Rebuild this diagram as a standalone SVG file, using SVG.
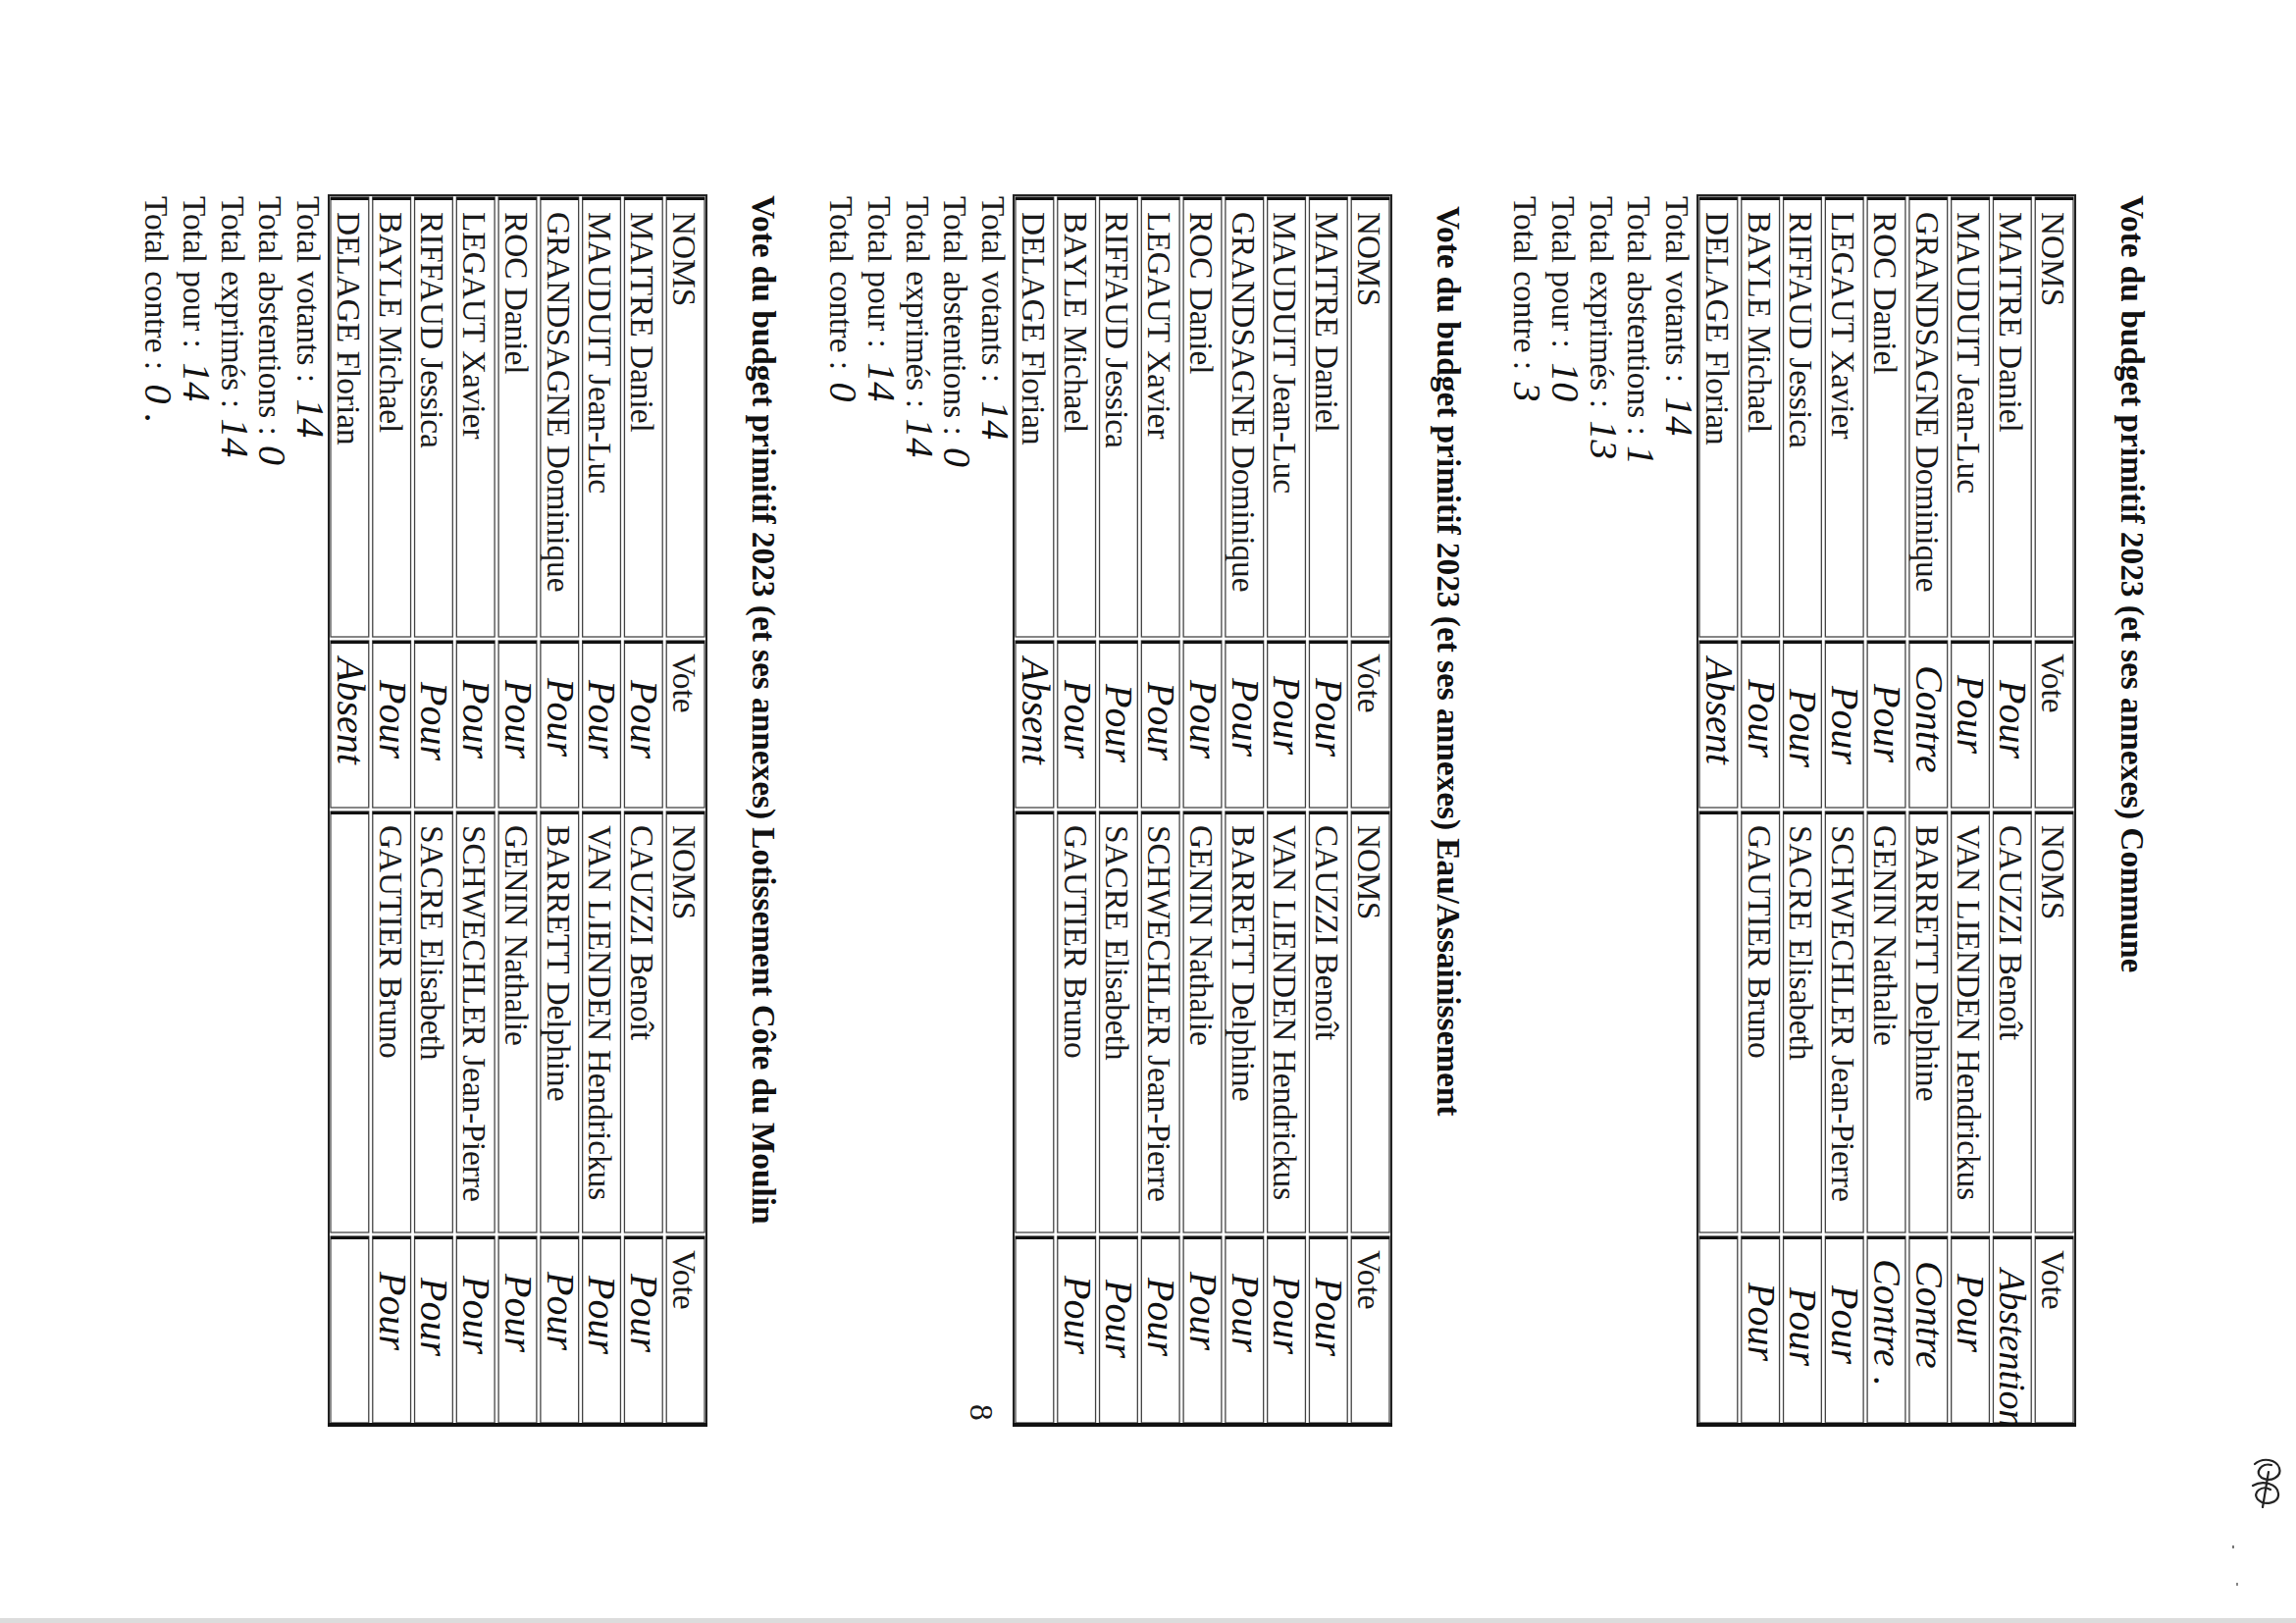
<svg xmlns="http://www.w3.org/2000/svg" width="2340" height="1654" viewBox="0 0 2340 1654">
<style>
.t{font-family:"Liberation Serif","Times New Roman",serif;font-size:33.3px;fill:#1a1a1a}
.ti{font-family:"Liberation Serif","Times New Roman",serif;font-size:33.3px;font-weight:bold;fill:#111}
.hw{font-family:"Liberation Serif","DejaVu Serif",serif;font-style:italic;font-size:40px;fill:#111}
.cell{fill:none;stroke:#454545;stroke-width:1.3}
.lk{fill:none;stroke:#111;stroke-width:3}
.out{fill:none;stroke:#222;stroke-width:2}
.edge{stroke:#111;stroke-width:4}
</style>
<defs>
<g id="row">
<rect class="cell" x="2" y="2" width="448" height="38.78"/>
<rect class="cell" x="454" y="2" width="170" height="38.78"/>
<rect class="cell" x="628" y="2" width="429" height="38.78"/>
<rect class="cell" x="1061" y="2" width="190" height="38.78"/>
<path class="lk" d="M3.5 2V40.78M455.5 2V40.78M629.5 2V40.78M1062.5 2V40.78"/>
</g>
<g id="grid">
<rect class="out" x="0" y="0" width="1253" height="385"/>
<use href="#row" y="0"/>
<use href="#row" y="42.78"/>
<use href="#row" y="85.56"/>
<use href="#row" y="128.33"/>
<use href="#row" y="171.11"/>
<use href="#row" y="213.89"/>
<use href="#row" y="256.67"/>
<use href="#row" y="299.44"/>
<use href="#row" y="342.22"/>
<line class="edge" x1="1253" y1="-1" x2="1253" y2="386"/>
</g>
</defs>
<rect width="2340" height="1654" fill="#fff"/>
<g transform="translate(2340,0) rotate(90)">

<g id="vote-commune" transform="translate(199,225)">
<text class="ti" x="0" y="-47">Vote du budget primitif 2023 (et ses annexes) Commune</text>
<use href="#grid"/>
<g class="t">
<text x="17" y="34">NOMS</text>
<text x="17" y="76.78">MAITRE Daniel</text>
<text x="17" y="119.56">MAUDUIT Jean-Luc</text>
<text x="17" y="162.33">GRANDSAGNE Dominique</text>
<text x="17" y="205.11">ROC Daniel</text>
<text x="17" y="247.89">LEGAUT Xavier</text>
<text x="17" y="290.67">RIFFAUD Jessica</text>
<text x="17" y="333.44">BAYLE Michael</text>
<text x="17" y="376.22">DELAGE Florian</text>
<text x="467" y="34">Vote</text>
<text x="642" y="34">NOMS</text>
<text x="642" y="76.78">CAUZZI Benoît</text>
<text x="642" y="119.56">VAN LIENDEN Hendrickus</text>
<text x="642" y="162.33">BARRETT Delphine</text>
<text x="642" y="205.11">GENIN Nathalie</text>
<text x="642" y="247.89">SCHWECHLER Jean-Pierre</text>
<text x="642" y="290.67">SACRE Elisabeth</text>
<text x="642" y="333.44">GAUTIER Bruno</text>
<text x="1075" y="34">Vote</text>
</g>
<g class="hw">
<text x="494" y="76.78">Pour</text>
<text x="489" y="119.56">Pour</text>
<text x="479" y="162.33">Contre</text>
<text x="498" y="205.11">Pour</text>
<text x="500" y="247.89">Pour</text>
<text x="503" y="290.67">Pour</text>
<text x="493" y="333.44">Pour</text>
<text x="471" y="376.22">Absent</text>
<text x="1094" y="76.78" style="font-size:38px">Abstention</text>
<text x="1099" y="119.56">Pour</text>
<text x="1086" y="162.33">Contre</text>
<text x="1084" y="205.11">Contre .</text>
<text x="1111" y="247.89">Pour</text>
<text x="1113" y="290.67">Pour</text>
<text x="1108" y="333.44">Pour</text>
</g>
<g class="t">
<text x="1" y="417">Total votants : <tspan class="hw" dx="6">14</tspan></text>
<text x="1" y="455.75">Total abstentions : <tspan class="hw" dx="2">1</tspan></text>
<text x="1" y="494.5">Total exprimés : <tspan class="hw" dx="4">13</tspan></text>
<text x="1" y="533.25">Total pour : <tspan class="hw" dx="6">10</tspan></text>
<text x="1" y="572">Total contre : <tspan class="hw" dx="4">3</tspan></text>
</g>
</g>

<g id="vote-eau" transform="translate(199,922)">
<text class="ti" x="11" y="-47">Vote du budget primitif 2023 (et ses annexes) Eau/Assainissement</text>
<use href="#grid"/>
<g class="t">
<text x="17" y="34">NOMS</text>
<text x="17" y="76.78">MAITRE Daniel</text>
<text x="17" y="119.56">MAUDUIT Jean-Luc</text>
<text x="17" y="162.33">GRANDSAGNE Dominique</text>
<text x="17" y="205.11">ROC Daniel</text>
<text x="17" y="247.89">LEGAUT Xavier</text>
<text x="17" y="290.67">RIFFAUD Jessica</text>
<text x="17" y="333.44">BAYLE Michael</text>
<text x="17" y="376.22">DELAGE Florian</text>
<text x="467" y="34">Vote</text>
<text x="642" y="34">NOMS</text>
<text x="642" y="76.78">CAUZZI Benoît</text>
<text x="642" y="119.56">VAN LIENDEN Hendrickus</text>
<text x="642" y="162.33">BARRETT Delphine</text>
<text x="642" y="205.11">GENIN Nathalie</text>
<text x="642" y="247.89">SCHWECHLER Jean-Pierre</text>
<text x="642" y="290.67">SACRE Elisabeth</text>
<text x="642" y="333.44">GAUTIER Bruno</text>
<text x="1075" y="34">Vote</text>
</g>
<g class="hw">
<text x="492" y="76.78">Pour</text>
<text x="490" y="119.56">Pour</text>
<text x="492" y="162.33">Pour</text>
<text x="494" y="205.11">Pour</text>
<text x="496" y="247.89">Pour</text>
<text x="498" y="290.67">Pour</text>
<text x="494" y="333.44">Pour</text>
<text x="471" y="376.22">Absent</text>
<text x="1103" y="76.78">Pour</text>
<text x="1101" y="119.56">Pour</text>
<text x="1099" y="162.33">Pour</text>
<text x="1097" y="205.11">Pour</text>
<text x="1103" y="247.89">Pour</text>
<text x="1105" y="290.67">Pour</text>
<text x="1101" y="333.44">Pour</text>
</g>
<g class="t">
<text x="1" y="417">Total votants : <tspan class="hw" dx="10">14</tspan></text>
<text x="1" y="455.75">Total abstentions : <tspan class="hw" dx="4">0</tspan></text>
<text x="1" y="494.5">Total exprimés : <tspan class="hw" dx="2">14</tspan></text>
<text x="1" y="533.25">Total pour : <tspan class="hw" dx="6">14</tspan></text>
<text x="1" y="572">Total contre : <tspan class="hw" dx="4">0</tspan></text>
</g>
</g>

<g id="vote-lotissement" transform="translate(199,1620)">
<text class="ti" x="0" y="-47">Vote du budget primitif 2023 (et ses annexes) Lotissement Côte du Moulin</text>
<use href="#grid"/>
<g class="t">
<text x="17" y="34">NOMS</text>
<text x="17" y="76.78">MAITRE Daniel</text>
<text x="17" y="119.56">MAUDUIT Jean-Luc</text>
<text x="17" y="162.33">GRANDSAGNE Dominique</text>
<text x="17" y="205.11">ROC Daniel</text>
<text x="17" y="247.89">LEGAUT Xavier</text>
<text x="17" y="290.67">RIFFAUD Jessica</text>
<text x="17" y="333.44">BAYLE Michael</text>
<text x="17" y="376.22">DELAGE Florian</text>
<text x="467" y="34">Vote</text>
<text x="642" y="34">NOMS</text>
<text x="642" y="76.78">CAUZZI Benoît</text>
<text x="642" y="119.56">VAN LIENDEN Hendrickus</text>
<text x="642" y="162.33">BARRETT Delphine</text>
<text x="642" y="205.11">GENIN Nathalie</text>
<text x="642" y="247.89">SCHWECHLER Jean-Pierre</text>
<text x="642" y="290.67">SACRE Elisabeth</text>
<text x="642" y="333.44">GAUTIER Bruno</text>
<text x="1075" y="34">Vote</text>
</g>
<g class="hw">
<text x="494" y="76.78">Pour</text>
<text x="494" y="119.56">Pour</text>
<text x="492" y="162.33">Pour</text>
<text x="494" y="205.11">Pour</text>
<text x="494" y="247.89">Pour</text>
<text x="496" y="290.67">Pour</text>
<text x="494" y="333.44">Pour</text>
<text x="471" y="376.22">Absent</text>
<text x="1099" y="76.78">Pour</text>
<text x="1101" y="119.56">Pour</text>
<text x="1097" y="162.33">Pour</text>
<text x="1099" y="205.11">Pour</text>
<text x="1101" y="247.89">Pour</text>
<text x="1103" y="290.67">Pour</text>
<text x="1097" y="333.44">Pour</text>
</g>
<g class="t">
<text x="1" y="417">Total votants : <tspan class="hw" dx="8">14</tspan></text>
<text x="1" y="455.75">Total abstentions : <tspan class="hw" dx="2">0</tspan></text>
<text x="1" y="494.5">Total exprimés : <tspan class="hw" dx="2">14</tspan></text>
<text x="1" y="533.25">Total pour : <tspan class="hw" dx="6">14</tspan></text>
<text x="1" y="572">Total contre : <tspan class="hw" dx="6">0 .</tspan></text>
</g>
</g>

<text id="page-number" class="t" x="1431" y="1351">8</text>
</g>

<g id="paraphe" fill="none" stroke="#222" stroke-width="2.2" stroke-linecap="round">
<path d="M2298 1492c8-7 22-5 25 4c3 9-9 15-18 10c-8-5 0-16 10-13"/>
<path d="M2296 1514c10-6 25-2 26 8c1 10-14 13-21 6c-6-7 4-15 13-10"/>
<path d="M2312 1500l-6 36"/>
</g>
<rect x="2275" y="1575" width="2" height="3" fill="#777"/>
<rect x="2279" y="1613" width="2" height="3" fill="#888"/>
<rect x="0" y="1649" width="2340" height="5" fill="#dcdcdc"/>
</svg>
